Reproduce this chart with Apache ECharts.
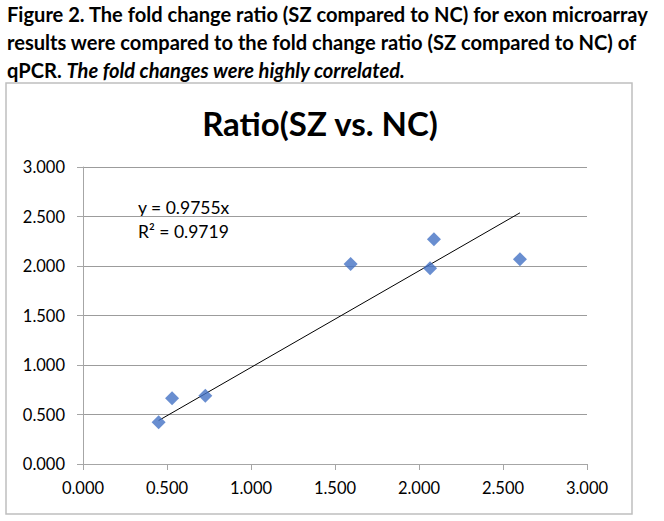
<!DOCTYPE html>
<html>
<head>
<meta charset="utf-8">
<script src="https://cdn.jsdelivr.net/npm/echarts@6/dist/echarts.min.js"></script>
<style>
html,body{margin:0;padding:0;background:#fff;}
#c{width:664px;height:521px;}
</style>
</head>
<body>
<div id="c"></div>
<script>
var captionLines = [
  'Figure 2. The fold change ratio (SZ compared to NC) for exon microarray',
  'results were compared to the fold change ratio (SZ compared to NC) of'
];
var captionLine3Plain = 'qPCR. ';
var captionLine3Italic = 'The fold changes were highly correlated.';
var chartTitle = 'Ratio(SZ vs. NC)';
var equationText = 'y = 0.9755x';
var r2Text = 'R² = 0.9719';
var trendSlope = 0.9755;

var microarrayX = [0.45, 0.53, 0.728, 1.593, 2.066, 2.089, 2.601];
var qpcrY = [0.421, 0.663, 0.690, 2.02, 1.977, 2.27, 2.068];
var axisMin = 0, axisMax = 3, axisStep = 0.5;

var points = microarrayX.map(function(x, i){ return [x, qpcrY[i]]; });
var xMinData = Math.min.apply(null, microarrayX);
var xMaxData = Math.max.apply(null, microarrayX);
var trend = [[xMinData, trendSlope * xMinData], [xMaxData, trendSlope * xMaxData]];

var FONT = 'Lato';
var CAP = 'bold 20.1px ' + FONT;
var chart = echarts.init(document.getElementById('c'), null, {renderer: 'svg'});
chart.setOption({
  animation: false,
  backgroundColor: '#fff',
  grid: {left: 83, right: 77, top: 167, bottom: 57},
  graphic: [
    {type: 'rect', shape: {x: 6, y: 83, width: 626, height: 431},
     style: {fill: 'none', stroke: '#bfbfbf', lineWidth: 1.5}, z: -1},
    {type: 'text', x: 7, y: 14, style: {text: captionLines[0], font: CAP, fill: '#000', verticalAlign: 'middle'}},
    {type: 'text', x: 7, y: 42, style: {text: captionLines[1], font: CAP, fill: '#000', verticalAlign: 'middle'}},
    {type: 'text', x: 7, y: 70, style: {
      text: '{a|' + captionLine3Plain + '}{b|' + captionLine3Italic + '}',
      verticalAlign: 'middle',
      rich: {a: {font: CAP, fill: '#000'}, b: {font: 'italic ' + CAP, fill: '#000'}}
    }},
    {type: 'text', x: 320, y: 123, style: {text: chartTitle, font: 'bold 33px ' + FONT, fill: '#000', align: 'center', verticalAlign: 'middle'}},
    {type: 'text', x: 138, y: 207, style: {text: equationText, font: '17.5px ' + FONT, fill: '#000', verticalAlign: 'middle'}},
    {type: 'text', x: 138, y: 231, style: {text: r2Text, font: '17.5px ' + FONT, fill: '#000', verticalAlign: 'middle'}}
  ],
  xAxis: {
    type: 'value', min: axisMin, max: axisMax, interval: axisStep,
    axisLine: {show: true, onZero: false, lineStyle: {color: '#a6a6a6', width: 1}},
    axisTick: {show: true, length: 6, inside: false, lineStyle: {color: '#a6a6a6'}},
    axisLabel: {formatter: function(v){ return v.toFixed(3); }, color: '#000', fontSize: 16.5, fontFamily: FONT, margin: 15},
    splitLine: {show: false}
  },
  yAxis: {
    type: 'value', min: axisMin, max: axisMax, interval: axisStep,
    axisLine: {show: true, onZero: false, lineStyle: {color: '#a6a6a6', width: 1}},
    axisTick: {show: true, length: 6, inside: false, lineStyle: {color: '#a6a6a6'}},
    axisLabel: {formatter: function(v){ return v.toFixed(3); }, color: '#000', fontSize: 16.5, fontFamily: FONT, margin: 18},
    splitLine: {show: true, lineStyle: {color: '#9c9c9c', width: 1}}
  },
  series: [
    {type: 'scatter', data: points, symbol: 'diamond', symbolSize: 14,
     itemStyle: {color: '#4472C4'}, z: 3},
    {type: 'line', data: trend, symbol: 'none', lineStyle: {color: '#000', width: 1}, z: 2, silent: true}
  ]
});
</script>
</body>
</html>
